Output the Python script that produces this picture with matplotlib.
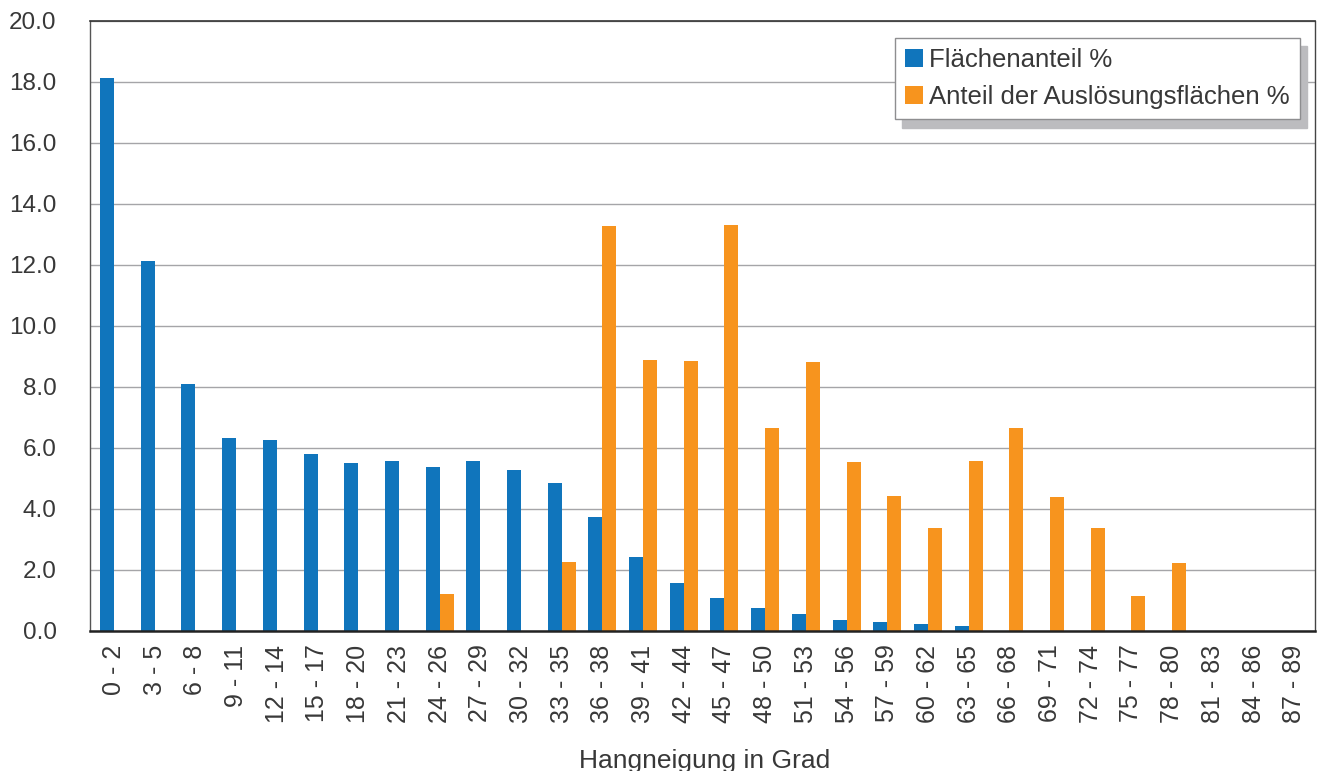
import matplotlib
matplotlib.use("Agg")
import matplotlib.pyplot as plt
import numpy as np

# Slope classes (degrees)
categories = ["0 - 2", "3 - 5", "6 - 8", "9 - 11", "12 - 14", "15 - 17", "18 - 20",
              "21 - 23", "24 - 26", "27 - 29", "30 - 32", "33 - 35", "36 - 38",
              "39 - 41", "42 - 44", "45 - 47", "48 - 50", "51 - 53", "54 - 56",
              "57 - 59", "60 - 62", "63 - 65", "66 - 68", "69 - 71", "72 - 74",
              "75 - 77", "78 - 80", "81 - 83", "84 - 86", "87 - 89"]

# Share of total area per slope class (%)
flaechenanteil = [18.12, 12.12, 8.09, 6.32, 6.25, 5.79, 5.50, 5.56, 5.37, 5.56,
                  5.27, 4.84, 3.73, 2.42, 1.56, 1.07, 0.74, 0.55, 0.35, 0.28,
                  0.22, 0.15, 0.0, 0.0, 0.0, 0.0, 0.0, 0.0, 0.0, 0.0]

# Share of release areas per slope class (%)
ausloesung = [0.0, 0.0, 0.0, 0.0, 0.0, 0.0, 0.0, 0.0, 1.20, 0.0,
              0.0, 2.25, 13.27, 8.88, 8.84, 13.30, 6.65, 8.81, 5.53, 4.42,
              3.37, 5.56, 6.65, 4.38, 3.37, 1.14, 2.22, 0.0, 0.0, 0.0]

y_ticks = [0, 2, 4, 6, 8, 10, 12, 14, 16, 18, 20]

BLUE = "#1075bc"
ORANGE = "#f7941e"
TEXT = "#383838"
GRID = "#a5a5a8"

plt.rcParams["font.family"] = ["Liberation Sans", "DejaVu Sans"]

fig = plt.figure(figsize=(13.22, 7.71), dpi=100)
ax = fig.add_axes([90 / 1322, 1 - 630.7 / 771, 1225 / 1322, 610 / 771])

x = np.arange(len(categories))
w = 0.344
ax.bar(x - w / 2, flaechenanteil, width=w, color=BLUE, label="Flächenanteil %", zorder=3)
ax.bar(x + w / 2, ausloesung, width=w, color=ORANGE,
       label="Anteil der Auslösungsflächen %", zorder=3)

ax.set_xlim(-0.59, 29.51)
ax.set_ylim(0, 20)
ax.set_yticks(y_ticks)
ax.set_yticklabels([f"{v:.1f}" for v in y_ticks])
ax.set_xticks(x)
ax.set_xticklabels(categories, rotation=90, va="top", ha="center")

ax.tick_params(axis="y", length=0, pad=24, labelsize=17.5, labelcolor=TEXT)
ax.tick_params(axis="x", length=0, pad=10, labelsize=18, labelcolor=TEXT)

ax.yaxis.grid(True, color=GRID, linewidth=1.0, zorder=1)
ax.set_axisbelow(True)

ax.spines["left"].set_color("#555555")
ax.spines["left"].set_linewidth(1.0)
ax.spines["top"].set_color("#333333")
ax.spines["top"].set_linewidth(1.2)
ax.spines["right"].set_color("#444444")
ax.spines["right"].set_linewidth(1.0)
ax.spines["bottom"].set_color("#222222")
ax.spines["bottom"].set_linewidth(1.8)
for s in ax.spines.values():
    s.set_zorder(4)

leg = ax.legend(loc="upper right", bbox_to_anchor=(0.9878, 0.9716), borderaxespad=0,
                fontsize=18.5, frameon=True, fancybox=False, edgecolor="#8e8e90",
                framealpha=1, handlelength=0.68, handleheight=0.68,
                handletextpad=0.25, borderpad=0.4, labelspacing=0.5,
                shadow={"ox": 5, "oy": -6, "color": "#bcbcbf", "alpha": 1})
for t in leg.get_texts():
    t.set_color(TEXT)
leg.get_frame().set_linewidth(1.0)
leg.set_zorder(5)

fig.text(705 / 1322, (771 - 768) / 771, "Hangneigung in Grad", ha="center",
         va="baseline", fontsize=19, color=TEXT)

fig.savefig("out.png", dpi=100)
